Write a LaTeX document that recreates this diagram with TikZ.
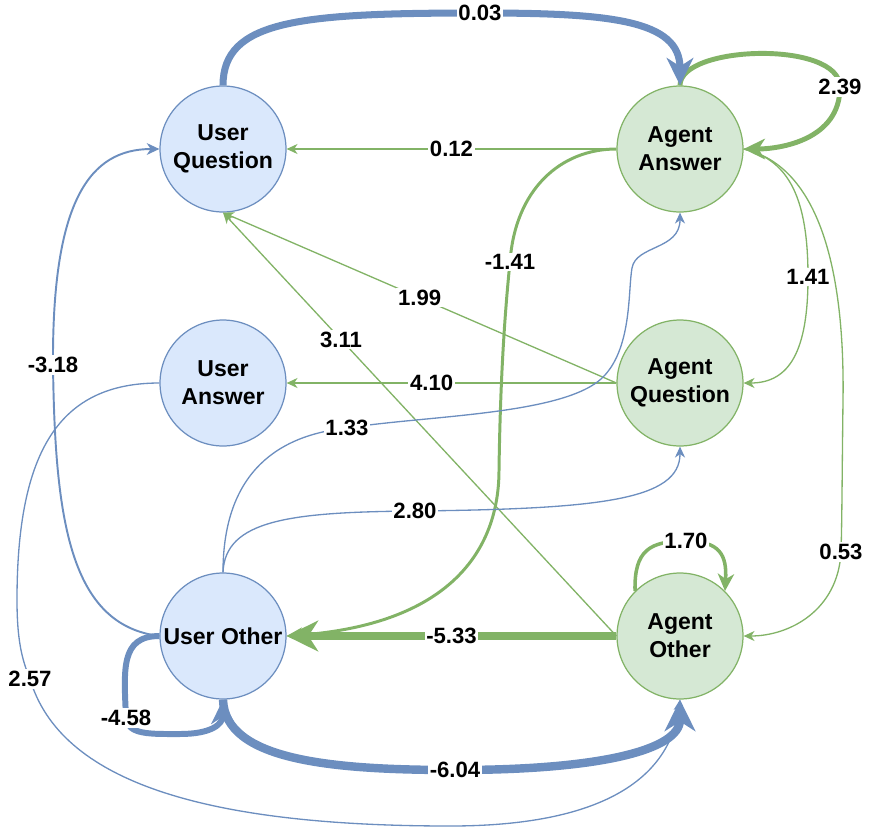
\documentclass[tikz,border=0pt]{standalone}
\usepackage{fontspec}
\setmainfont{Liberation Sans}
\usetikzlibrary{arrows.meta}
\definecolor{userline}{HTML}{6C8EBF}
\definecolor{userfill}{HTML}{DAE8FC}
\definecolor{agentline}{HTML}{82B366}
\definecolor{agentfill}{HTML}{D5E8D4}
\begin{document}
\begin{tikzpicture}[x=0.02cm, y=-0.02cm,
    every node/.style={font=\fontsize{12.6}{16}\selectfont\bfseries},
    state/.style={circle, minimum size=2.52cm, inner sep=0pt, line width=0.7pt, align=center,
        font=\fontsize{13.1}{16}\selectfont\bfseries},
    user/.style={state, draw=userline, fill=userfill},
    agent/.style={state, draw=agentline, fill=agentfill},
    wt/.style={fill=white, inner sep=1pt},
    flow/.style={-{Stealth[length=4pt 2.9, width=3.5pt 2.9, inset=1.2pt 0.9]}, line width=0.75pt},
    uflow/.style={flow, draw=userline},
    aflow/.style={flow, draw=agentline}]
    \useasboundingbox (0,0) rectangle (884,838);

    % states: user on the left, agent on the right
    \node[user] (uq) at (223,149) {User\\Question};
    \node[user] (ua) at (223,383) {User\\Answer};
    \node[user] (uo) at (223,636) {User Other};
    \node[agent] (aa) at (680,149) {Agent\\Answer};
    \node[agent] (aq) at (680,383) {Agent\\Question};
    \node[agent] (ao) at (680,636) {Agent\\Other};

    % transitions from agent states
    \draw[aflow, line width=2.8pt] (aa.north) .. controls (680,45) and (840,40) .. (840,87) node[wt] {2.39} .. controls (840,140) and (780,149) .. (aa.east);
    \draw[aflow] (aa.west) -- node[wt] {0.12} (uq.east);
    \draw[aflow, line width=1.7pt] (aa.west) .. controls (560,149) and (515,190) .. (510,262) node[wt] {-1.41} .. controls (503,330) and (500,400) .. (499,470) .. controls (499,550) and (450,625) .. (uo.east);
    \draw[aflow] (aa.east) .. controls (790,160) and (808,200) .. (808,277) node[wt] {1.41} .. controls (808,350) and (790,383) .. (aq.east);
    \draw[aflow] (aa.east) .. controls (815,165) and (845,260) .. (843,400) .. controls (842,480) and (842,520) .. (841,552) node[wt] {0.53} .. controls (838,610) and (790,636) .. (ao.east);
    \draw[aflow] (aq.west) -- node[wt, pos=0.56] {4.10} (ua.east);
    \draw[aflow] (aq.west) -- node[wt] {1.99} (uq.south);
    \draw[aflow] (ao.west) -- node[wt, pos=0.7] {3.11} (uq.south);
    \draw[aflow, line width=4.8pt] (ao.west) -- node[wt] {-5.33} (uo.east);
    \draw[aflow, line width=2pt] (ao.135) .. controls (634,550) and (650,541) .. (686,541) node[wt] {1.70} .. controls (720,541) and (727,555) .. (ao.45);

    % transitions from user states
    \draw[uflow, line width=4pt] (uq.north) .. controls (223,20) and (300,13) .. (480,13) node[wt] {0.03} .. controls (610,13) and (680,20) .. (aa.north);
    \draw[uflow, line width=1.1pt] (uo.west) .. controls (70,625) and (55,520) .. (53,365) node[wt] {-3.18} .. controls (52,200) and (90,149) .. (uq.west);
    \draw[uflow, line width=3.4pt] (uo.west) .. controls (120,636) and (124,670) .. (126,718) node[wt] {-4.58} .. controls (128,735) and (150,734) .. (180,734) .. controls (210,734) and (223,725) .. (uo.south);
    \draw[uflow, line width=4.8pt] (uo.south) .. controls (225,760) and (330,770) .. (455,770) node[wt] {-6.04} .. controls (600,770) and (680,750) .. (ao.south);
    \draw[uflow] (ua.west) .. controls (60,383) and (17,450) .. (17,600) .. controls (17,640) and (22,660) .. (30,679) node[wt] {2.57} .. controls (60,780) and (200,826) .. (450,826) .. controls (600,826) and (670,780) .. (ao.south);
    \draw[uflow] (uo.north) .. controls (223,480) and (270,436) .. (347,428) node[wt] {1.33} .. controls (430,415) and (570,415) .. (605,375) .. controls (632,345) and (628,290) .. (632,268) .. controls (636,245) and (680,250) .. (aa.south);
    \draw[uflow] (uo.north) .. controls (225,520) and (290,512) .. (415,511) node[wt] {2.80} .. controls (600,509) and (680,500) .. (aq.south);
\end{tikzpicture}
\end{document}
